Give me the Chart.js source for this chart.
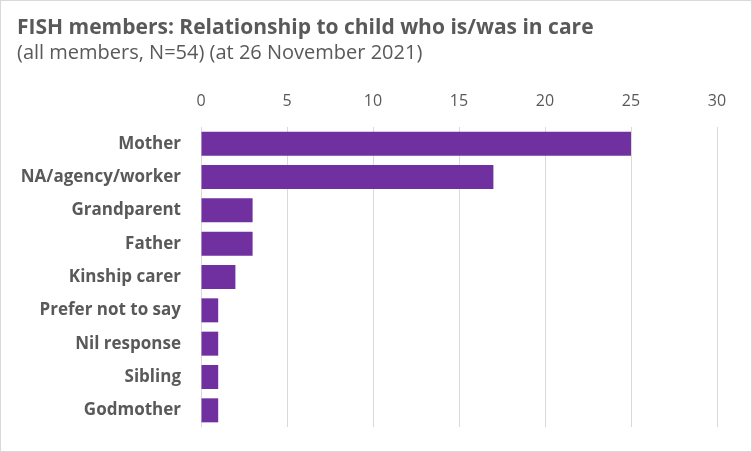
<!DOCTYPE html>
<html>
<head>
<meta charset="utf-8">
<script src="https://cdn.jsdelivr.net/npm/chart.js@4"></script>
<style>
  html, body { margin: 0; padding: 0; background: #fff; }
  #wrap { width: 752px; height: 452px; position: relative; }
</style>
</head>
<body>
<div id="wrap"><canvas id="relChart"></canvas></div>
<script>
const categories = ['Mother', 'NA/agency/worker', 'Grandparent', 'Father', 'Kinship carer',
    'Prefer not to say', 'Nil response', 'Sibling', 'Godmother'];
const members = [25, 17, 3, 3, 2, 1, 1, 1, 1];
const xTicks = [0, 5, 10, 15, 20, 25, 30];

const textGrey = '#595959';

// thin grey frame round the whole chart
const frame = {
    id: 'frame',
    afterDraw(chart) {
        const c = chart.ctx;
        c.save();
        c.strokeStyle = '#d9d9d9';
        c.lineWidth = 1;
        c.strokeRect(0.5, 0.5, chart.width - 1, chart.height - 1);
        c.restore();
    }
};

const ctx = document.getElementById('relChart').getContext('2d');
new Chart(ctx, {
    type: 'bar',
    data: {
        labels: categories,
        datasets: [{
            label: 'Members',
            data: members,
            backgroundColor: '#7030A0',
            barPercentage: 0.72,
            categoryPercentage: 1
        }]
    },
    options: {
        indexAxis: 'y',
        responsive: true,
        maintainAspectRatio: false,
        animation: false,
        layout: { padding: { left: 17, right: 35, top: 0, bottom: 25 } },
        plugins: {
            legend: { display: false },
            tooltip: { enabled: false },
            title: {
                display: true,
                text: 'FISH members: Relationship to child who is/was in care',
                align: 'start',
                color: textGrey,
                font: { family: 'Open Sans', size: 21, weight: 'bold', lineHeight: 1.0 },
                padding: { top: 18, bottom: 0 }
            },
            subtitle: {
                display: true,
                text: '(all members, N=54) (at 26 November 2021)',
                align: 'start',
                color: textGrey,
                font: { family: 'Open Sans', size: 20, lineHeight: 1.2 },
                padding: { top: 2, bottom: 27 }
            }
        },
        scales: {
            x: {
                position: 'top',
                min: 0,
                max: 30,
                afterBuildTicks(scale) {
                    scale.ticks = xTicks.map(v => ({ value: v }));
                },
                afterFit(scale) { scale.height = 35; },
                grid: { color: '#d9d9d9', drawTicks: false },
                border: { display: false },
                ticks: {
                    color: textGrey,
                    padding: 16,
                    font: { family: 'Open Sans', size: 16 }
                }
            },
            y: {
                grid: { display: false, drawTicks: false },
                border: { display: false },
                afterFit(scale) {
                    scale.width = 184;
                    scale.paddingTop = 0;
                    scale.paddingBottom = 0;
                },
                ticks: {
                    color: textGrey,
                    padding: 20,
                    font: { family: 'Open Sans', size: 17, weight: 'bold' }
                }
            }
        }
    },
    plugins: [frame]
});
</script>
</body>
</html>
